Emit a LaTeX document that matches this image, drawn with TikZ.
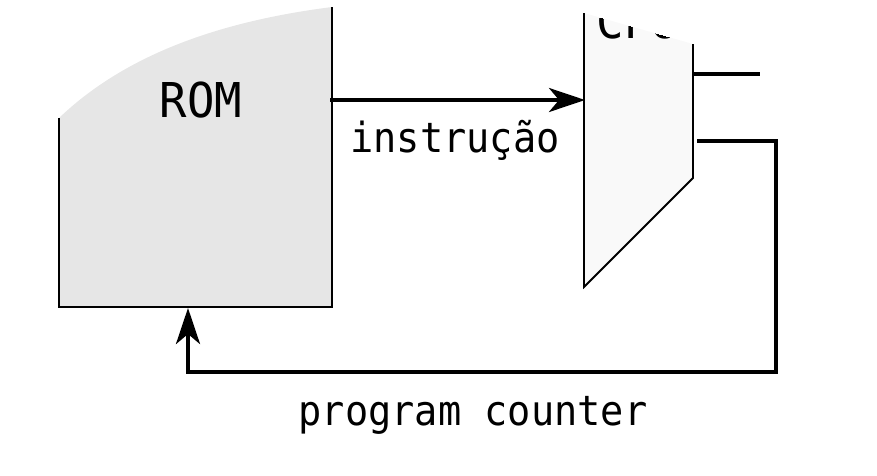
\documentclass[tikz,border=0pt]{standalone}
\usepackage{fontspec}
\newfontfamily\monofont{DejaVu Sans Mono}
\usetikzlibrary{arrows.meta}
\definecolor{romfill}{HTML}{E6E6E6}
\definecolor{cpufill}{HTML}{F9F9F9}
\tikzset{
  outline/.style={line width=1.8pt, draw=black},
  wire/.style={line width=4pt, draw=black},
  wirearrow/.style={wire, -{Stealth[length=36pt,width=24pt,inset=10pt]}},
  bigtext/.style={font=\monofont\fontsize{48}{50}\selectfont, inner sep=0pt, anchor=base},
  label/.style={font=\monofont\fontsize{41.5}{44}\selectfont, inner sep=0pt, anchor=base},
}
\begin{document}
\begin{tikzpicture}[x=1pt,y=-1pt]
\useasboundingbox (0,0) rectangle (877,475);
% ROM shape
\coordinate (romTL) at (59,118);
\coordinate (romTR) at (332,7);
\coordinate (romBR) at (332,307);
\coordinate (romBL) at (59,307);
\fill[romfill] (romTL) .. controls (130,50) and (230,20) .. (romTR) -- (romBR) -- (romBL) -- cycle;
\draw[outline] (romTL) -- (romBL) -- (romBR) -- (romTR);
\node[bigtext] (rom) at (201,117) {\scalebox{0.95}[1]{ROM}};
% CPU shape
\coordinate (cpuTL) at (584,13);
\coordinate (cpuTR) at (693,44);
\coordinate (cpuRB) at (693,178);
\coordinate (cpuBL) at (584,287);
\fill[cpufill] (cpuTL) -- (cpuTR) -- (cpuRB) -- (cpuBL) -- cycle;
\begin{scope}
  \clip (cpuTL) -- (cpuTR) -- (cpuRB) -- (cpuBL) -- cycle;
  \node[bigtext] (cpu) at (638,38) {\scalebox{0.95}[1]{CPU}};
\end{scope}
\draw[outline] (cpuTL) -- (cpuBL) -- (cpuRB) -- (cpuTR);
% connectors
\coordinate (romout) at (330,100);
\coordinate (cpuin) at (585,100);
\draw[wirearrow] (romout) -- (cpuin);
\node[label] (instr) at (455,152) {\scalebox{0.93}[1]{instrução}};
\coordinate (cpuout) at (693,74);
\coordinate (outend) at (760,74);
\draw[wire] (cpuout) -- (outend);
\coordinate (pcstart) at (697,141);
\coordinate (pccorner1) at (776,141);
\coordinate (pccorner2) at (776,372);
\coordinate (pccorner3) at (188,372);
\coordinate (romin) at (188,308);
\draw[wirearrow] (pcstart) -- (pccorner1) -- (pccorner2) -- (pccorner3) -- (romin);
\node[label] (pc) at (473,425) {\scalebox{0.93}[1]{program counter}};
\end{tikzpicture}
\end{document}
